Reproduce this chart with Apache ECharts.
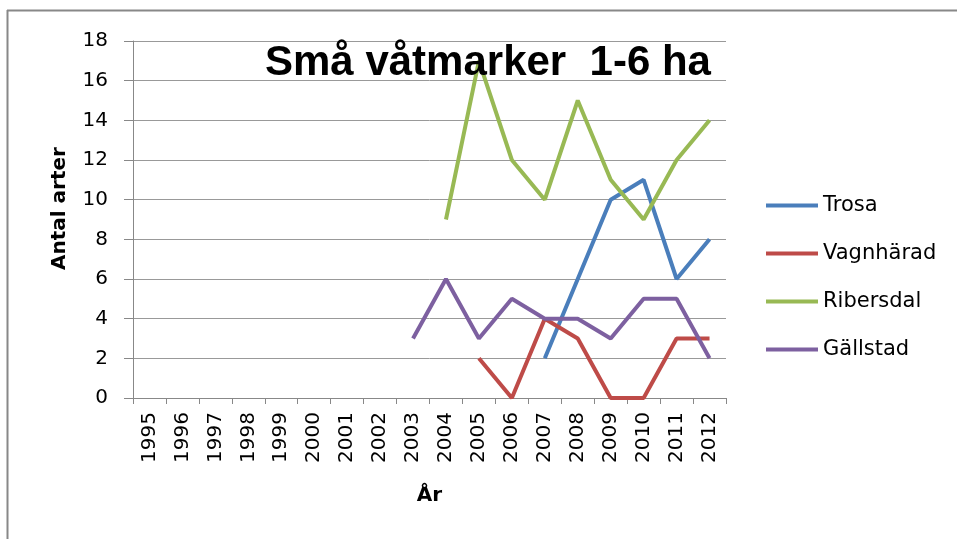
<!DOCTYPE html>
<html>
<head>
<meta charset="utf-8">
<script src="https://cdn.jsdelivr.net/npm/echarts@6/dist/echarts.min.js"></script>
<style>
  html, body { margin: 0; padding: 0; background: #fff; }
  #chart { width: 957px; height: 539px; }
</style>
</head>
<body>
<div id="chart"></div>
<script>
// years on the x axis
const years = ['1995', '1996', '1997', '1998', '1999', '2000', '2001', '2002', '2003',
    '2004', '2005', '2006', '2007', '2008', '2009', '2010', '2011', '2012']

// number of species per year (null = no survey)
const trosa     = [null, null, null, null, null, null, null, null, null, null, null, null, 2, 6, 10, 11, 6, 8]
const vagnharad = [null, null, null, null, null, null, null, null, null, null, 2, 0, 4, 3, 0, 0, 3, 3]
const ribersdal = [null, null, null, null, null, null, null, null, null, 9, 17, 12, 10, 15, 11, 9, 12, 14]
const gallstad  = [null, null, null, null, null, null, null, null, 3, 6, 3, 5, 4, 4, 3, 5, 5, 2]

const font = 'DejaVu Sans'

function line(name, data, color) {
    return {
        name: name,
        type: 'line',
        data: data,
        symbol: 'none',
        connectNulls: false,
        lineStyle: { width: 4, color: color },
        itemStyle: { color: color },
        z: 3,
    }
}

const options = {
    animation: false,
    backgroundColor: '#fff',
    title: {
        text: 'Små våtmarker  1-6 ha',
        left: 265,
        top: 42,
        padding: 0,
        textStyle: { fontFamily: 'Liberation Sans', fontWeight: 'bold', fontSize: 42, color: '#000' },
    },
    legend: {
        orient: 'vertical',
        left: 766,
        top: 195,
        padding: 0,
        itemWidth: 52,
        itemHeight: 14,
        itemGap: 27,
        icon: 'path://M0,5 L52,5 L52,9 L0,9 Z',
        textStyle: { fontFamily: font, fontSize: 21, color: '#000' },
        data: ['Trosa', 'Vagnhärad', 'Ribersdal', 'Gällstad'],
    },
    grid: { left: 133, right: 231, top: 41, bottom: 141 },
    xAxis: {
        type: 'category',
        data: years,
        boundaryGap: true,
        name: 'År',
        nameLocation: 'middle',
        nameGap: 88,
        nameTextStyle: { fontFamily: font, fontWeight: 'bold', fontSize: 20, color: '#000' },
        axisLine: { lineStyle: { color: '#888', width: 1 } },
        axisTick: { show: true, length: 6, lineStyle: { color: '#888' } },
        axisLabel: { rotate: 90, interval: 0, margin: 14, fontFamily: font, fontSize: 20, color: '#000' },
    },
    yAxis: {
        type: 'value',
        min: 0,
        max: 18,
        interval: 2,
        name: 'Antal arter',
        nameLocation: 'middle',
        nameGap: 63,
        nameTextStyle: { fontFamily: font, fontWeight: 'bold', fontSize: 20, color: '#000', padding: [0, 0, 0, 22] },
        axisLine: { show: true, lineStyle: { color: '#888', width: 1 } },
        axisTick: { show: true, inside: false, length: 9, lineStyle: { color: '#888' } },
        axisLabel: { margin: 25, fontFamily: font, fontSize: 20, color: '#000' },
        splitLine: { lineStyle: { color: '#999', width: 1 } },
    },
    graphic: [
        { type: 'line', shape: { x1: 7, y1: 10.5, x2: 957, y2: 10.5 }, style: { stroke: '#888', lineWidth: 2 } },
        { type: 'line', shape: { x1: 7.5, y1: 10, x2: 7.5, y2: 539 }, style: { stroke: '#888', lineWidth: 2 } },
    ],
    series: [
        line('Trosa', trosa, '#4A7EBB'),
        line('Vagnhärad', vagnharad, '#BE4B48'),
        line('Ribersdal', ribersdal, '#98B954'),
        line('Gällstad', gallstad, '#7D60A0'),
    ],
}

echarts.init(document.getElementById('chart')).setOption(options)
</script>
</body>
</html>
